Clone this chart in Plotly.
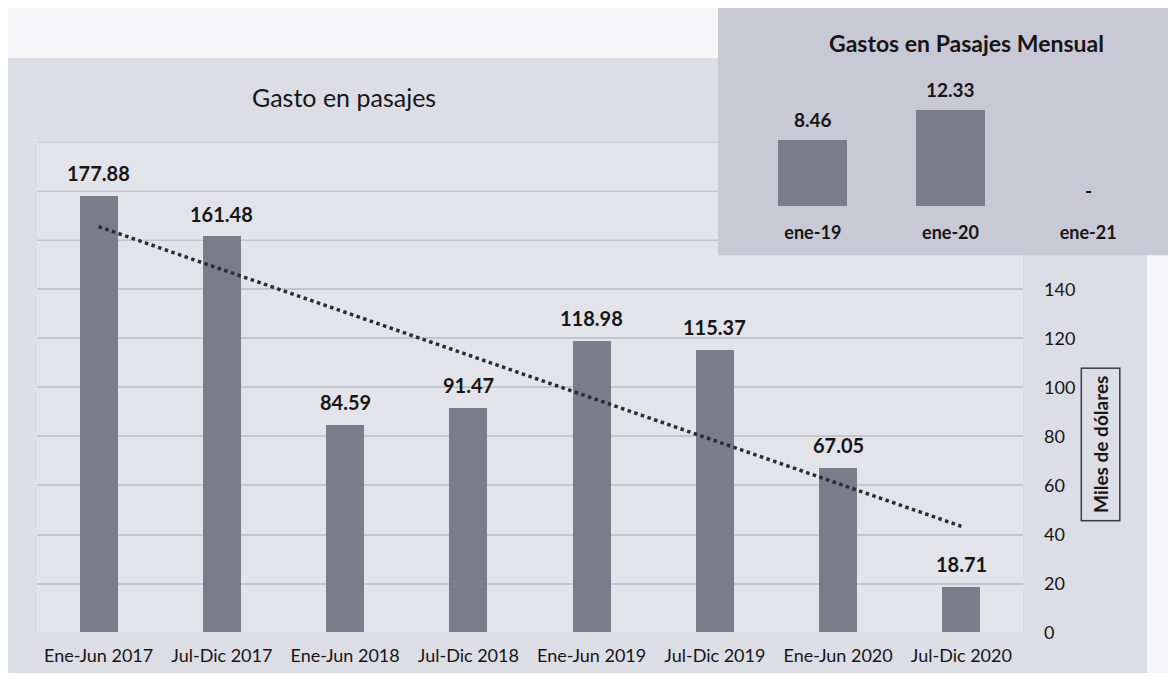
import numpy as np
import plotly.graph_objects as go

# ---- data ----
periods = ["Ene-Jun 2017", "Jul-Dic 2017", "Ene-Jun 2018", "Jul-Dic 2018",
           "Ene-Jun 2019", "Jul-Dic 2019", "Ene-Jun 2020", "Jul-Dic 2020"]
gasto = [177.88, 161.48, 84.59, 91.47, 118.98, 115.37, 67.05, 18.71]

meses = ["ene-19", "ene-20", "ene-21"]
gasto_mensual = [8.46, 12.33, 0]

y_ticks = [0, 20, 40, 60, 80, 100, 120, 140]
hidden_grid = [160, 180, 200]

# figure sized to fit inside the page's 8px body margin (window 1176x681)
OFF = 8
W, H = 1176 - 2 * OFF, 681 - 2 * OFF
KY = 0.984  # observed vertical rendering factor
def px(x):
    return (x - OFF) / W
def py(y):
    return 1 - (y - OFF) / (KY * H)

FONT = "Lato"
TXT = "#161616"
PANEL = "#dcdde5"
PLOT = "#e3e4ea"
INSET = "#c8c9d4"
GRID = "#c3c4ce"
BAR = "#7a7c8a"

# trend line (least squares over the data)
xi = np.arange(1, len(gasto) + 1)
slope, intercept = np.polyfit(xi, gasto, 1)
trend = list(slope * xi + intercept)

fig = go.Figure()

fig.add_trace(go.Bar(x=periods, y=gasto, marker=dict(color=BAR, line=dict(width=0)),
                     width=0.31, xaxis="x", yaxis="y", showlegend=False))
fig.add_trace(go.Scatter(x=periods, y=trend, mode="lines",
                         line=dict(color="#2b2b33", width=3.5, dash="dot"),
                         xaxis="x", yaxis="y", showlegend=False))
fig.add_trace(go.Bar(x=meses, y=gasto_mensual, marker=dict(color=BAR, line=dict(width=0)),
                     width=0.5, xaxis="x2", yaxis="y2", showlegend=False))

annotations = []
for p, v in zip(periods, gasto):
    annotations.append(dict(x=p, y=v, xref="x", yref="y", text=f"{v:.2f}",
                            showarrow=False, yanchor="bottom", yshift=9,
                            font=dict(family=FONT, size=20, color=TXT, weight="bold")))
for m, v in zip(meses, gasto_mensual):
    annotations.append(dict(x=m, y=v, xref="x2", yref="y2",
                            text=(f"{v:.2f}" if v else "-"),
                            showarrow=False, yanchor="bottom", yshift=(7 if v else 2),
                            font=dict(family=FONT, size=19, color=TXT, weight="bold")))

annotations += [
    dict(x=px(344), y=py(97), xref="paper", yref="paper", text="Gasto en pasajes",
         showarrow=False, xanchor="center", yanchor="middle",
         font=dict(family=FONT, size=25, color=TXT)),
    dict(x=px(966), y=py(43), xref="paper", yref="paper",
         text="Gastos en Pasajes Mensual", showarrow=False,
         xanchor="center", yanchor="middle",
         font=dict(family=FONT, size=23, color=TXT, weight="bold")),
    dict(x=px(1101), y=py(444), xref="paper", yref="paper", text="Miles de dólares",
         textangle=-90, showarrow=False, xanchor="center", yanchor="middle",
         font=dict(family=FONT, size=19, color=TXT, weight="bold"),
         bordercolor="#3a3a48", borderwidth=1.5, borderpad=7),
]

shapes = [
    dict(type="rect", xref="paper", yref="paper", x0=px(7), x1=px(1147),
         y0=-0.05, y1=py(58), fillcolor=PANEL, line=dict(width=0), layer="below"),
    dict(type="rect", xref="paper", yref="y", x0=px(37), x1=px(1023),
         y0=0, y1=200, fillcolor=PLOT, line=dict(width=0), layer="below"),
]
for g in hidden_grid:
    shapes.append(dict(type="line", xref="paper", yref="y", x0=px(37), x1=px(718),
                       y0=g, y1=g, line=dict(color=GRID, width=1.5), layer="below"))
shapes.append(dict(type="rect", xref="paper", yref="paper", x0=px(718), x1=1.05,
                   y0=py(255), y1=1.05, fillcolor=INSET, line=dict(width=0),
                   layer="below"))

fig.update_layout(
    width=W, height=H,
    margin=dict(l=0, r=0, t=0, b=0),
    paper_bgcolor="#f6f6f8",
    plot_bgcolor="rgba(0,0,0,0)",
    bargap=0,
    xaxis=dict(domain=[px(37), px(1023)], anchor="y",
               tickfont=dict(family=FONT, size=18, color=TXT),
               showgrid=False, showline=False, ticks="", ticklabelstandoff=10),
    yaxis=dict(domain=[py(632), py(142)], anchor="x", range=[0, 200],
               side="right", tickvals=y_ticks,
               tickfont=dict(family=FONT, size=18, color=TXT),
               showgrid=True, gridcolor=GRID, gridwidth=1.5,
               zeroline=False, showline=False, ticks="", ticklabelstandoff=20),
    xaxis2=dict(domain=[px(744), px(1157)], anchor="y2",
                tickfont=dict(family=FONT, size=18, color=TXT, weight="bold"),
                showgrid=False, showline=False, ticks="", ticklabelstandoff=14),
    yaxis2=dict(domain=[py(206), py(89)], anchor="x2", range=[0, 15],
                visible=False, showgrid=False, zeroline=False),
    annotations=annotations,
    shapes=shapes,
)

fig.write_html("out.html")
